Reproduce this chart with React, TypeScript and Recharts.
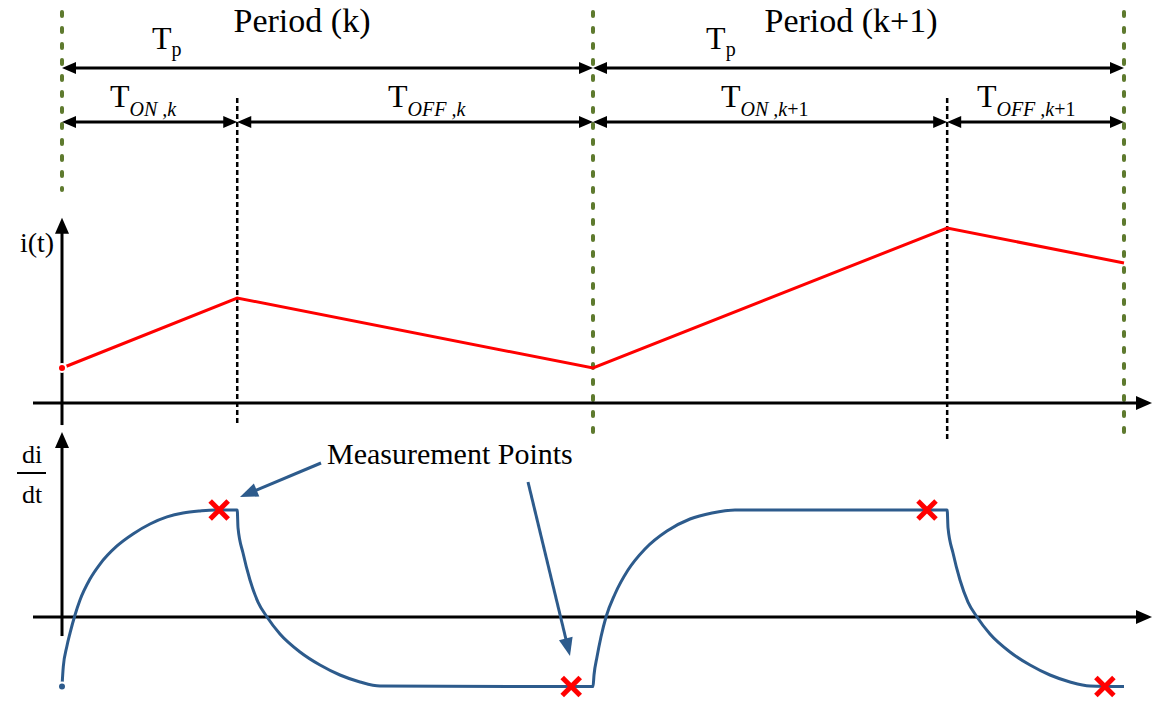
import React from 'react';
import {
  ComposedChart,
  Line,
  Scatter,
  XAxis,
  YAxis,
  ReferenceLine,
  ReferenceDot,
} from 'recharts';

const W = 1160;
const H = 701;

// time is measured in switching periods Tp
const SWITCH_T = [0, 0.33, 1, 1.667, 2];
const CURRENT = [1.0, 3.0, 1.0, 5.0, 4.0];

// di/dt response over the two periods
const DIDT_T = [
  // on, period k
  0, 0.0024, 0.0089, 0.0151, 0.0245, 0.0339, 0.0527, 0.0716, 0.1036, 0.1337, 0.1657, 0.1977, 0.2279, 0.2599, 0.2881, 0.33,
  // off, period k
  0.3315, 0.3409, 0.354, 0.3691, 0.3861, 0.4105, 0.4482, 0.4859, 0.5235, 0.5612, 0.5989, 1.0,
  // on, period k+1
  1.0019, 1.0075, 1.015, 1.0245, 1.0414, 1.0659, 1.0979, 1.1393, 1.1827, 1.2241, 1.2674, 1.667,
  // off, period k+1
  1.6686, 1.678, 1.6911, 1.7062, 1.7232, 1.7476, 1.7853, 1.823, 1.8606, 1.8983, 1.936, 2.0,
];
const DIDT = [
  -0.65, -0.467, -0.28, -0.15, 0.019, 0.159, 0.355, 0.495, 0.664, 0.776, 0.869, 0.935, 0.972, 0.991, 1.0, 1.0,
  0.832, 0.598, 0.346, 0.14, 0, -0.159, -0.327, -0.449, -0.542, -0.607, -0.645, -0.65,
  -0.542, -0.374, -0.187, 0, 0.215, 0.439, 0.636, 0.804, 0.916, 0.972, 1.0, 1.0,
  0.832, 0.598, 0.346, 0.14, 0, -0.159, -0.327, -0.449, -0.542, -0.607, -0.645, -0.65,
];

// sampling instants just before each switching edge
const MEAS_T = [0.296, 0.959, 1.629, 1.964];
const MEAS_D = [1.0, -0.65, 1.0, -0.65];

const PERIOD_EDGES = [0, 1, 2];
const PERIOD_NAMES = ['Period (k)', 'Period (k+1)'];

const RED = '#ff0000';
const BLUE = '#2d5b8c';
const OLIVE = '#5e7a2e';
const SERIF = '"Liberation Serif", "Times New Roman", serif';

const currentData = SWITCH_T.map((t, k) => ({ t, i: CURRENT[k] }));
const didtData = DIDT_T.map((t, k) => ({ t, d: DIDT[k] }));
const measData = MEAS_T.map((t, k) => ({ t, d: MEAS_D[k] }));

type Heads = 'none' | 'start' | 'end' | 'both';

// line with filled triangular arrow heads
const arrowShape =
  (color: string, width: number, heads: Heads, len = 14, half = 6) =>
  (p: any) => {
    const { x1, y1, x2, y2 } = p;
    const L = Math.hypot(x2 - x1, y2 - y1) || 1;
    const ux = (x2 - x1) / L;
    const uy = (y2 - y1) / L;
    const atStart = heads === 'start' || heads === 'both';
    const atEnd = heads === 'end' || heads === 'both';
    const head = (tx: number, ty: number, dir: number) => {
      const bx = tx - dir * ux * len;
      const by = ty - dir * uy * len;
      return (
        <polygon
          points={`${tx},${ty} ${bx - uy * half},${by + ux * half} ${bx + uy * half},${by - ux * half}`}
          fill={color}
        />
      );
    };
    const sx = atStart ? x1 + ux * len * 0.7 : x1;
    const sy = atStart ? y1 + uy * len * 0.7 : y1;
    const ex = atEnd ? x2 - ux * len * 0.7 : x2;
    const ey = atEnd ? y2 - uy * len * 0.7 : y2;
    return (
      <g>
        <line x1={sx} y1={sy} x2={ex} y2={ey} stroke={color} strokeWidth={width} />
        {atStart && head(x1, y1, -1)}
        {atEnd && head(x2, y2, 1)}
      </g>
    );
  };

const dashShape =
  (color: string, width: number, dash: string, cap: 'round' | 'butt' = 'butt') =>
  (p: any) => (
    <line
      x1={p.x1}
      y1={p.y1}
      x2={p.x2}
      y2={p.y2}
      stroke={color}
      strokeWidth={width}
      strokeDasharray={dash}
      strokeLinecap={cap}
    />
  );

const textShape =
  (content: React.ReactNode, size: number, anchor: 'start' | 'middle' | 'end' = 'start') =>
  (p: any) => (
    <text x={p.cx} y={p.cy} fontFamily={SERIF} fontSize={size} textAnchor={anchor} fill="#000">
      {content}
    </text>
  );

// "T" with a subscript
const tShape = (sub: React.ReactNode, dy = 9) => (p: any) => (
  <text x={p.cx} y={p.cy} fontFamily={SERIF} fontSize={32} fill="#000">
    T
    <tspan fontSize={20} dy={dy}>
      {sub}
    </tspan>
  </text>
);

const cross = (p: any) => {
  const s = 9;
  return (
    <g stroke={RED} strokeWidth={5}>
      <line x1={p.cx - s} y1={p.cy - s} x2={p.cx + s} y2={p.cy + s} />
      <line x1={p.cx - s} y1={p.cy + s} x2={p.cx + s} y2={p.cy - s} />
    </g>
  );
};

const it = (s: string) => <tspan fontStyle="italic">{s}</tspan>;

export default function App() {
  const dim = arrowShape('#000', 3, 'both', 14, 6);
  const axisArrow = arrowShape('#000', 3, 'end', 16, 7);
  const noteArrow = arrowShape(BLUE, 3, 'end', 18, 7);
  const plain = arrowShape('#000', 2, 'none');

  return (
    <div style={{ position: 'absolute', left: 0, top: 0, width: W, height: H, background: '#fff' }}>
      <ComposedChart width={W} height={H} margin={{ top: 0, right: 0, bottom: 0, left: 0 }}>
        <XAxis
          type="number"
          dataKey="t"
          domain={[-0.11676, 2.0678]}
          allowDataOverflow
          hide
        />
        <YAxis yAxisId="i" type="number" dataKey="i" domain={[-8.514, 11.514]} allowDataOverflow hide />
        <YAxis yAxisId="di" type="number" dataKey="d" domain={[-0.785, 5.766]} allowDataOverflow hide />
        <YAxis yAxisId="px" type="number" domain={[0, H]} reversed allowDataOverflow hide />

        {/* period boundaries */}
        {PERIOD_EDGES.map((t, k) => (
          <ReferenceLine
            key={`edge-${t}`}
            yAxisId="px"
            segment={[
              { x: t, y: 12 },
              { x: t, y: k === 0 ? 190 : 440 },
            ]}
            shape={dashShape(OLIVE, 4, '4 12', 'round')}
          />
        ))}
        {/* switching instants */}
        {[SWITCH_T[1], SWITCH_T[3]].map((t, k) => (
          <ReferenceLine
            key={`sw-${t}`}
            yAxisId="px"
            segment={[
              { x: t, y: 98 },
              { x: t, y: k === 0 ? 425 : 440 },
            ]}
            shape={dashShape('#000', 2.5, '5 3')}
          />
        ))}

        {/* Tp and on/off dimension arrows */}
        {[0, 1].map((k) => (
          <ReferenceLine
            key={`tp-${k}`}
            yAxisId="px"
            segment={[
              { x: PERIOD_EDGES[k], y: 68 },
              { x: PERIOD_EDGES[k + 1], y: 68 },
            ]}
            shape={dim}
          />
        ))}
        {SWITCH_T.slice(0, -1).map((t, k) => (
          <ReferenceLine
            key={`on-${k}`}
            yAxisId="px"
            segment={[
              { x: t, y: 122 },
              { x: SWITCH_T[k + 1], y: 122 },
            ]}
            shape={dim}
          />
        ))}

        {/* axes */}
        <ReferenceLine yAxisId="i" segment={[{ x: -0.0546, y: 0 }, { x: 2.0527, y: 0 }]} shape={axisArrow} />
        <ReferenceLine yAxisId="i" segment={[{ x: 0, y: -0.63 }, { x: 0, y: 5.29 }]} shape={axisArrow} />
        <ReferenceLine yAxisId="di" segment={[{ x: -0.0546, y: 0 }, { x: 2.0527, y: 0 }]} shape={axisArrow} />
        <ReferenceLine yAxisId="di" segment={[{ x: 0, y: -0.178 }, { x: 0, y: 1.729 }]} shape={axisArrow} />

        <Line
          data={currentData}
          yAxisId="i"
          dataKey="i"
          type="linear"
          stroke={RED}
          strokeWidth={3}
          dot={false}
          isAnimationActive={false}
        />
        <Line
          data={didtData}
          yAxisId="di"
          dataKey="d"
          type="monotone"
          stroke={BLUE}
          strokeWidth={3}
          dot={false}
          isAnimationActive={false}
        />
        <Scatter data={measData} yAxisId="di" dataKey="d" shape={cross} isAnimationActive={false} />

        {/* measurement callouts */}
        <ReferenceLine yAxisId="px" segment={[{ x: 0.4878, y: 463 }, { x: 0.3352, y: 497 }]} shape={noteArrow} />
        <ReferenceLine yAxisId="px" segment={[{ x: 0.8776, y: 482 }, { x: 0.9567, y: 656 }]} shape={noteArrow} />
        <ReferenceDot yAxisId="px" x={0.499} y={464} shape={textShape('Measurement Points', 30)} />

        {/* headings */}
        {PERIOD_NAMES.map((name, k) => (
          <ReferenceDot
            key={name}
            yAxisId="px"
            x={[0.452, 1.486][k]}
            y={32}
            shape={textShape(name, 34, 'middle')}
          />
        ))}
        <ReferenceDot yAxisId="px" x={0.1695} y={49} shape={tShape('p', 7)} />
        <ReferenceDot yAxisId="px" x={1.213} y={49} shape={tShape('p', 7)} />
        <ReferenceDot yAxisId="px" x={0.0904} y={107} shape={tShape(it('ON ,k'))} />
        <ReferenceDot yAxisId="px" x={0.614} y={107} shape={tShape(it('OFF ,k'))} />
        <ReferenceDot
          yAxisId="px"
          x={1.241}
          y={107}
          shape={tShape(
            <>
              {it('ON ,k')}+1
            </>,
          )}
        />
        <ReferenceDot
          yAxisId="px"
          x={1.723}
          y={107}
          shape={tShape(
            <>
              {it('OFF ,k')}+1
            </>,
          )}
        />

        {/* axis titles */}
        <ReferenceDot yAxisId="px" x={-0.0791} y={252} shape={textShape('i(t)', 28)} />
        <ReferenceDot yAxisId="px" x={-0.0565} y={463} shape={textShape('di', 26, 'middle')} />
        <ReferenceLine yAxisId="px" segment={[{ x: -0.0847, y: 473 }, { x: -0.0301, y: 473 }]} shape={plain} />
        <ReferenceDot yAxisId="px" x={-0.0565} y={503} shape={textShape('dt', 26, 'middle')} />
      </ComposedChart>
    </div>
  );
}
